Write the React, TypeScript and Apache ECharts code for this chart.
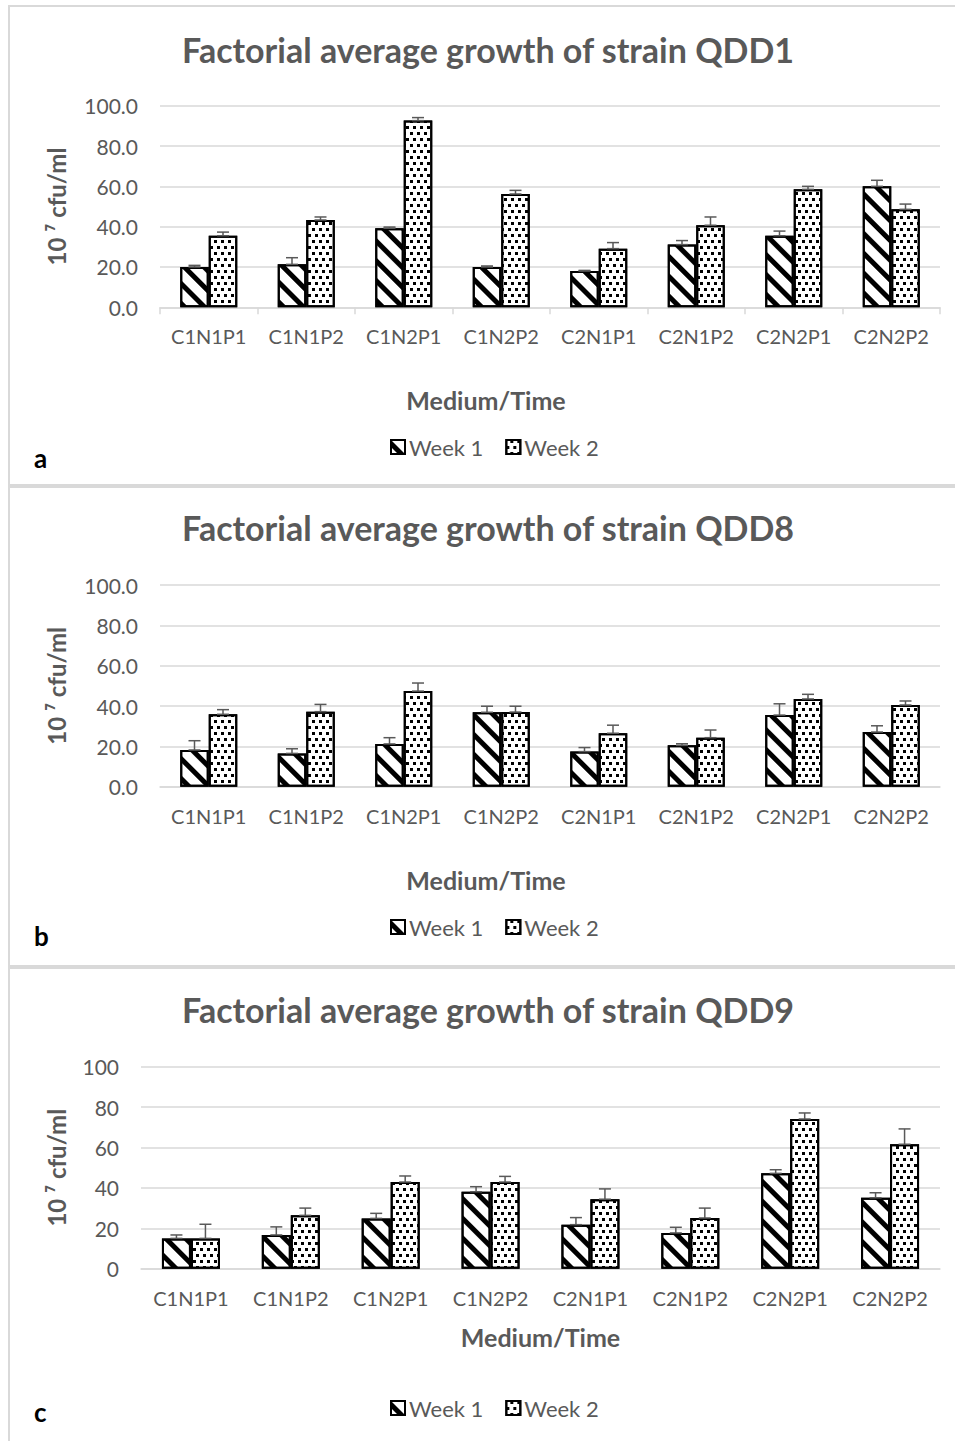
import React, { useEffect, useRef } from "react";
import * as echarts from "echarts";

const categories = ["C1N1P1", "C1N1P2", "C1N2P1", "C1N2P2", "C2N1P1", "C2N1P2", "C2N2P1", "C2N2P2"];
const seriesNames = ["Week 1", "Week 2"];
const titles = [
  "Factorial average growth of strain QDD1",
  "Factorial average growth of strain QDD8",
  "Factorial average growth of strain QDD9",
];
const panelLetters = ["a", "b", "c"];

const qdd1Week1 = [20.0, 21.3, 39.2, 20.0, 18.0, 31.1, 35.5, 60.0];
const qdd1Week1Err = [0.8, 3.3, 0.6, 0.5, 0.3, 2.0, 2.3, 3.0];
const qdd1Week2 = [35.5, 43.3, 92.6, 56.2, 29.1, 40.7, 58.5, 48.6];
const qdd1Week2Err = [1.8, 1.5, 1.5, 1.8, 3.0, 4.1, 1.5, 2.6];

const qdd8Week1 = [18.2, 16.5, 21.2, 36.9, 17.4, 20.5, 35.5, 27.1];
const qdd8Week1Err = [4.6, 2.3, 3.1, 3.0, 2.0, 0.8, 5.6, 3.1];
const qdd8Week2 = [35.9, 37.2, 47.4, 37.0, 26.5, 24.3, 43.5, 40.5];
const qdd8Week2Err = [2.3, 3.6, 4.0, 2.9, 4.0, 3.8, 2.3, 2.0];

const qdd9Week1 = [15.0, 16.7, 24.9, 38.1, 21.8, 17.7, 47.2, 35.1];
const qdd9Week1Err = [1.7, 4.0, 2.5, 2.5, 3.5, 2.8, 1.8, 2.5];
const qdd9Week2 = [15.0, 26.4, 42.9, 42.9, 34.4, 25.1, 74.1, 61.6];
const qdd9Week2Err = [7.0, 3.6, 3.0, 2.8, 5.1, 4.9, 3.0, 7.6];

const FONT = "Lato";
const GRAY = "#595959";
const LIGHT = "#d9d9d9";

const stripeDecal = {
  symbol: "rect",
  symbolSize: 1,
  dashArrayX: [1, 0],
  dashArrayY: [5, 9],
  rotation: Math.PI / 4,
  color: "#000000",
  backgroundColor: "#ffffff",
};
const dotDecal = {
  symbol: "rect",
  symbolSize: 1,
  dashArrayX: [
    [3, 4],
    [0, 4, 3, 0],
  ],
  dashArrayY: [3, 3],
  rotation: 0,
  color: "#000000",
  backgroundColor: "#ffffff",
};

export default function App() {
  const ref = useRef<HTMLDivElement>(null);

  useEffect(() => {
    if (!ref.current) return;
    const chart = echarts.init(ref.current, null, { renderer: "svg" });

    const panels = [
      { w1: qdd1Week1, e1: qdd1Week1Err, w2: qdd1Week2, e2: qdd1Week2Err, left: 160, top: 105.7, h: 201.6, barW: 28.5, decimals: 1, ticks: true, nameGapX: 80, nameShift: 128, nameGapY: 92, legendTop: 436, letterY: 460, titleTop: 32 },
      { w1: qdd8Week1, e1: qdd8Week1Err, w2: qdd8Week2, e2: qdd8Week2Err, left: 160, top: 585, h: 201.7, barW: 28.5, decimals: 1, ticks: false, nameGapX: 81, nameShift: 128, nameGapY: 92, legendTop: 916, letterY: 938, titleTop: 510 },
      { w1: qdd9Week1, e1: qdd9Week1Err, w2: qdd9Week2, e2: qdd9Week2Err, left: 141, top: 1066.7, h: 202, barW: 29, decimals: 0, ticks: false, nameGapX: 56, nameShift: 0, nameGapY: 73, legendTop: 1397, letterY: 1414, titleTop: 992 },
    ];

    const grid: any[] = [];
    const xAxis: any[] = [];
    const yAxis: any[] = [];
    const series: any[] = [];
    const legend: any[] = [];
    const title: any[] = [];

    const errSeries = (gi: number, vals: number[], errs: number[], sign: number, barW: number) => ({
      type: "custom",
      name: "err",
      xAxisIndex: gi,
      yAxisIndex: gi,
      z: 10,
      silent: true,
      data: vals.map((v, i) => [i, v, errs[i]]),
      encode: { x: 0, y: 1 },
      renderItem: (params: any, api: any) => {
        const i = api.value(0);
        const v = api.value(1);
        const e = api.value(2);
        const p0 = api.coord([i, v]);
        const p1 = api.coord([i, v + e]);
        const x = p0[0] + (sign * barW) / 2;
        const st = { stroke: GRAY, lineWidth: 1.5 };
        return {
          type: "group",
          children: [
            { type: "line", shape: { x1: x, y1: p0[1], x2: x, y2: p1[1] }, style: st },
            { type: "line", shape: { x1: x - 6, y1: p1[1], x2: x + 6, y2: p1[1] }, style: st },
            { type: "line", shape: { x1: x - 6, y1: p0[1], x2: x + 6, y2: p0[1] }, style: st },
          ],
        };
      },
    });

    panels.forEach((p, gi) => {
      grid.push({ left: p.left, right: 15, top: p.top, height: p.h, containLabel: false });
      xAxis.push({
        type: "category",
        gridIndex: gi,
        data: categories,
        name: "Medium/Time",
        nameLocation: "middle",
        nameGap: p.nameGapX,
        nameTextStyle: { fontFamily: FONT, fontWeight: "bold", fontSize: 25, color: GRAY, padding: [0, p.nameShift, 0, 0] },
        axisLine: { show: true, lineStyle: { color: LIGHT, width: 1.5 } },
        axisTick: { show: p.ticks, length: 7, lineStyle: { color: LIGHT, width: 1.5 } },
        axisLabel: { fontFamily: FONT, fontSize: 20, color: GRAY, margin: 19, interval: 0 },
      });
      yAxis.push({
        type: "value",
        gridIndex: gi,
        min: 0,
        max: 100,
        interval: 20,
        name: "10 ⁷ cfu/ml",
        nameLocation: "middle",
        nameGap: p.nameGapY,
        nameRotate: 90,
        nameTextStyle: { fontFamily: FONT, fontWeight: "bold", fontSize: 24, color: GRAY },
        axisLine: { show: false },
        axisTick: { show: false },
        splitLine: { lineStyle: { color: LIGHT, width: 1.5 } },
        axisLabel: {
          fontFamily: FONT,
          fontSize: 21,
          color: GRAY,
          margin: 22,
          formatter: (v: number) => v.toFixed(p.decimals),
        },
      });
      series.push({
        type: "bar",
        name: seriesNames[0],
        xAxisIndex: gi,
        yAxisIndex: gi,
        barWidth: p.barW,
        barGap: "0%",
        data: p.w1,
        itemStyle: { color: "#ffffff", borderColor: "#000000", borderWidth: 2, decal: stripeDecal },
      });
      series.push({
        type: "bar",
        name: seriesNames[1],
        xAxisIndex: gi,
        yAxisIndex: gi,
        barWidth: p.barW,
        barGap: "0%",
        data: p.w2,
        itemStyle: { color: "#ffffff", borderColor: "#000000", borderWidth: 2, decal: dotDecal },
      });
      series.push(errSeries(gi, p.w1, p.e1, -1, p.barW));
      series.push(errSeries(gi, p.w2, p.e2, 1, p.barW));
      legend.push({
        data: seriesNames,
        left: 390,
        top: p.legendTop,
        padding: 0,
        itemGap: 22,
        itemWidth: 14,
        itemHeight: 14,
        icon: "rect",
        selectedMode: false,
        textStyle: { fontFamily: FONT, fontSize: 22, color: GRAY, padding: [0, 0, 0, -1] },
      });
      title.push({
        text: titles[gi],
        left: 488,
        textAlign: "center",
        top: p.titleTop,
        padding: 0,
        textStyle: { fontFamily: FONT, fontWeight: "bold", fontSize: 34, color: GRAY },
      });
    });

    const graphic: any[] = [
      { type: "rect", shape: { x: 9, y: 6, width: 960, height: 479 }, style: { fill: "none", stroke: LIGHT, lineWidth: 2 }, silent: true },
      { type: "rect", shape: { x: 9, y: 487, width: 960, height: 479 }, style: { fill: "none", stroke: LIGHT, lineWidth: 2 }, silent: true },
      { type: "rect", shape: { x: 9, y: 968, width: 960, height: 500 }, style: { fill: "none", stroke: LIGHT, lineWidth: 2 }, silent: true },
    ];
    panels.forEach((p, gi) => {
      graphic.push({
        type: "text",
        left: 34,
        top: p.letterY - 15,
        style: { text: panelLetters[gi], fontFamily: FONT, fontWeight: "bold", fontSize: 26, fill: "#000000" },
      });
    });

    chart.setOption({
      animation: false,
      backgroundColor: "#ffffff",
      title,
      legend,
      grid,
      xAxis,
      yAxis,
      series,
      graphic,
    });

    return () => chart.dispose();
  }, []);

  return <div ref={ref} style={{ position: "absolute", left: 0, top: 0, width: 955, height: 1441 }} />;
}
